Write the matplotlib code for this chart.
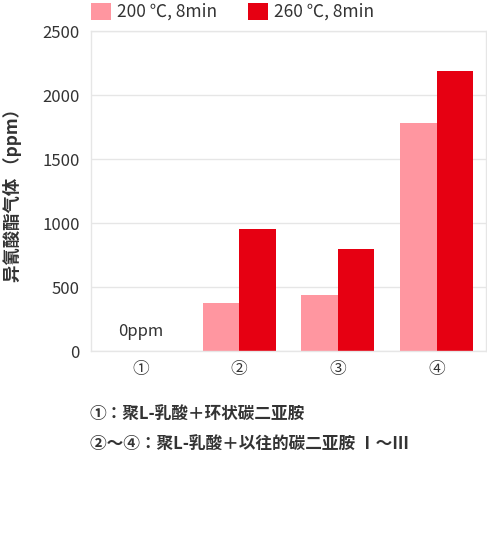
import numpy as np
import matplotlib
matplotlib.use('Agg')
import matplotlib.pyplot as plt

plt.rcParams['font.family'] = ['Noto Sans CJK SC', 'DejaVu Sans']

categories = ['①', '②', '③', '④']
series_names = ['200 ℃, 8min', '260 ℃, 8min']
vals_200 = [0, 375, 440, 1780]
vals_260 = [0, 950, 800, 2190]
yticks = [0, 500, 1000, 1500, 2000, 2500]
notes = ['①：聚L-乳酸＋环状碳二亚胺', '②～④：聚L-乳酸＋以往的碳二亚胺 Ⅰ～Ⅲ']

pink = '#ff96a0'
red = '#e60012'
txt = '#333333'
grid = '#e6e6e6'

fig = plt.figure(figsize=(4.87, 5.51), dpi=100)
ax = fig.add_axes([91/487, 1-351/551, 395/487, 320/551])

x = np.arange(len(categories))
w = 0.37
ax.bar(x - w/2, vals_200, w, color=pink, label=series_names[0], linewidth=0)
ax.bar(x + w/2, vals_260, w, color=red, label=series_names[1], linewidth=0)

ax.set_xlim(-0.5, 3.5)
ax.set_ylim(0, 2500)
ax.set_yticks(yticks)
ax.set_xticks(x)
ax.set_xticklabels(categories)
ax.tick_params(axis='both', length=0, labelsize=12, colors=txt)
ax.tick_params(axis='x', pad=7)
ax.tick_params(axis='y', pad=8)
ax.grid(axis='y', color=grid, linewidth=1)
ax.set_axisbelow(True)
for s in ax.spines.values():
    s.set_color(grid)
    s.set_linewidth(1)

ax.text(0, 150, '0ppm', ha='center', va='center', fontsize=12, color=txt)

leg = ax.legend(loc='lower left', bbox_to_anchor=(91/487, 1-21/551), bbox_transform=fig.transFigure,
                ncol=2, frameon=False, borderaxespad=0, borderpad=0, fontsize=12.5,
                handlelength=1.15, handleheight=1.15, handletextpad=0.35, columnspacing=1.8)
for t in leg.get_texts():
    t.set_color(txt)

fig.text(12/487, 1-191/551, '异氰酸酯气体 （ppm）', rotation=90, ha='center', va='center',
         fontsize=12.5, color=txt, fontweight='bold')

for i, n in enumerate(notes):
    fig.text(90/487, 1-(415 + 30*i)/551, n, ha='left', va='center', fontsize=12, color=txt,
             fontweight='bold', family=['Noto Sans CJK JP', 'DejaVu Sans'])

fig.savefig('out.png', dpi=100)
